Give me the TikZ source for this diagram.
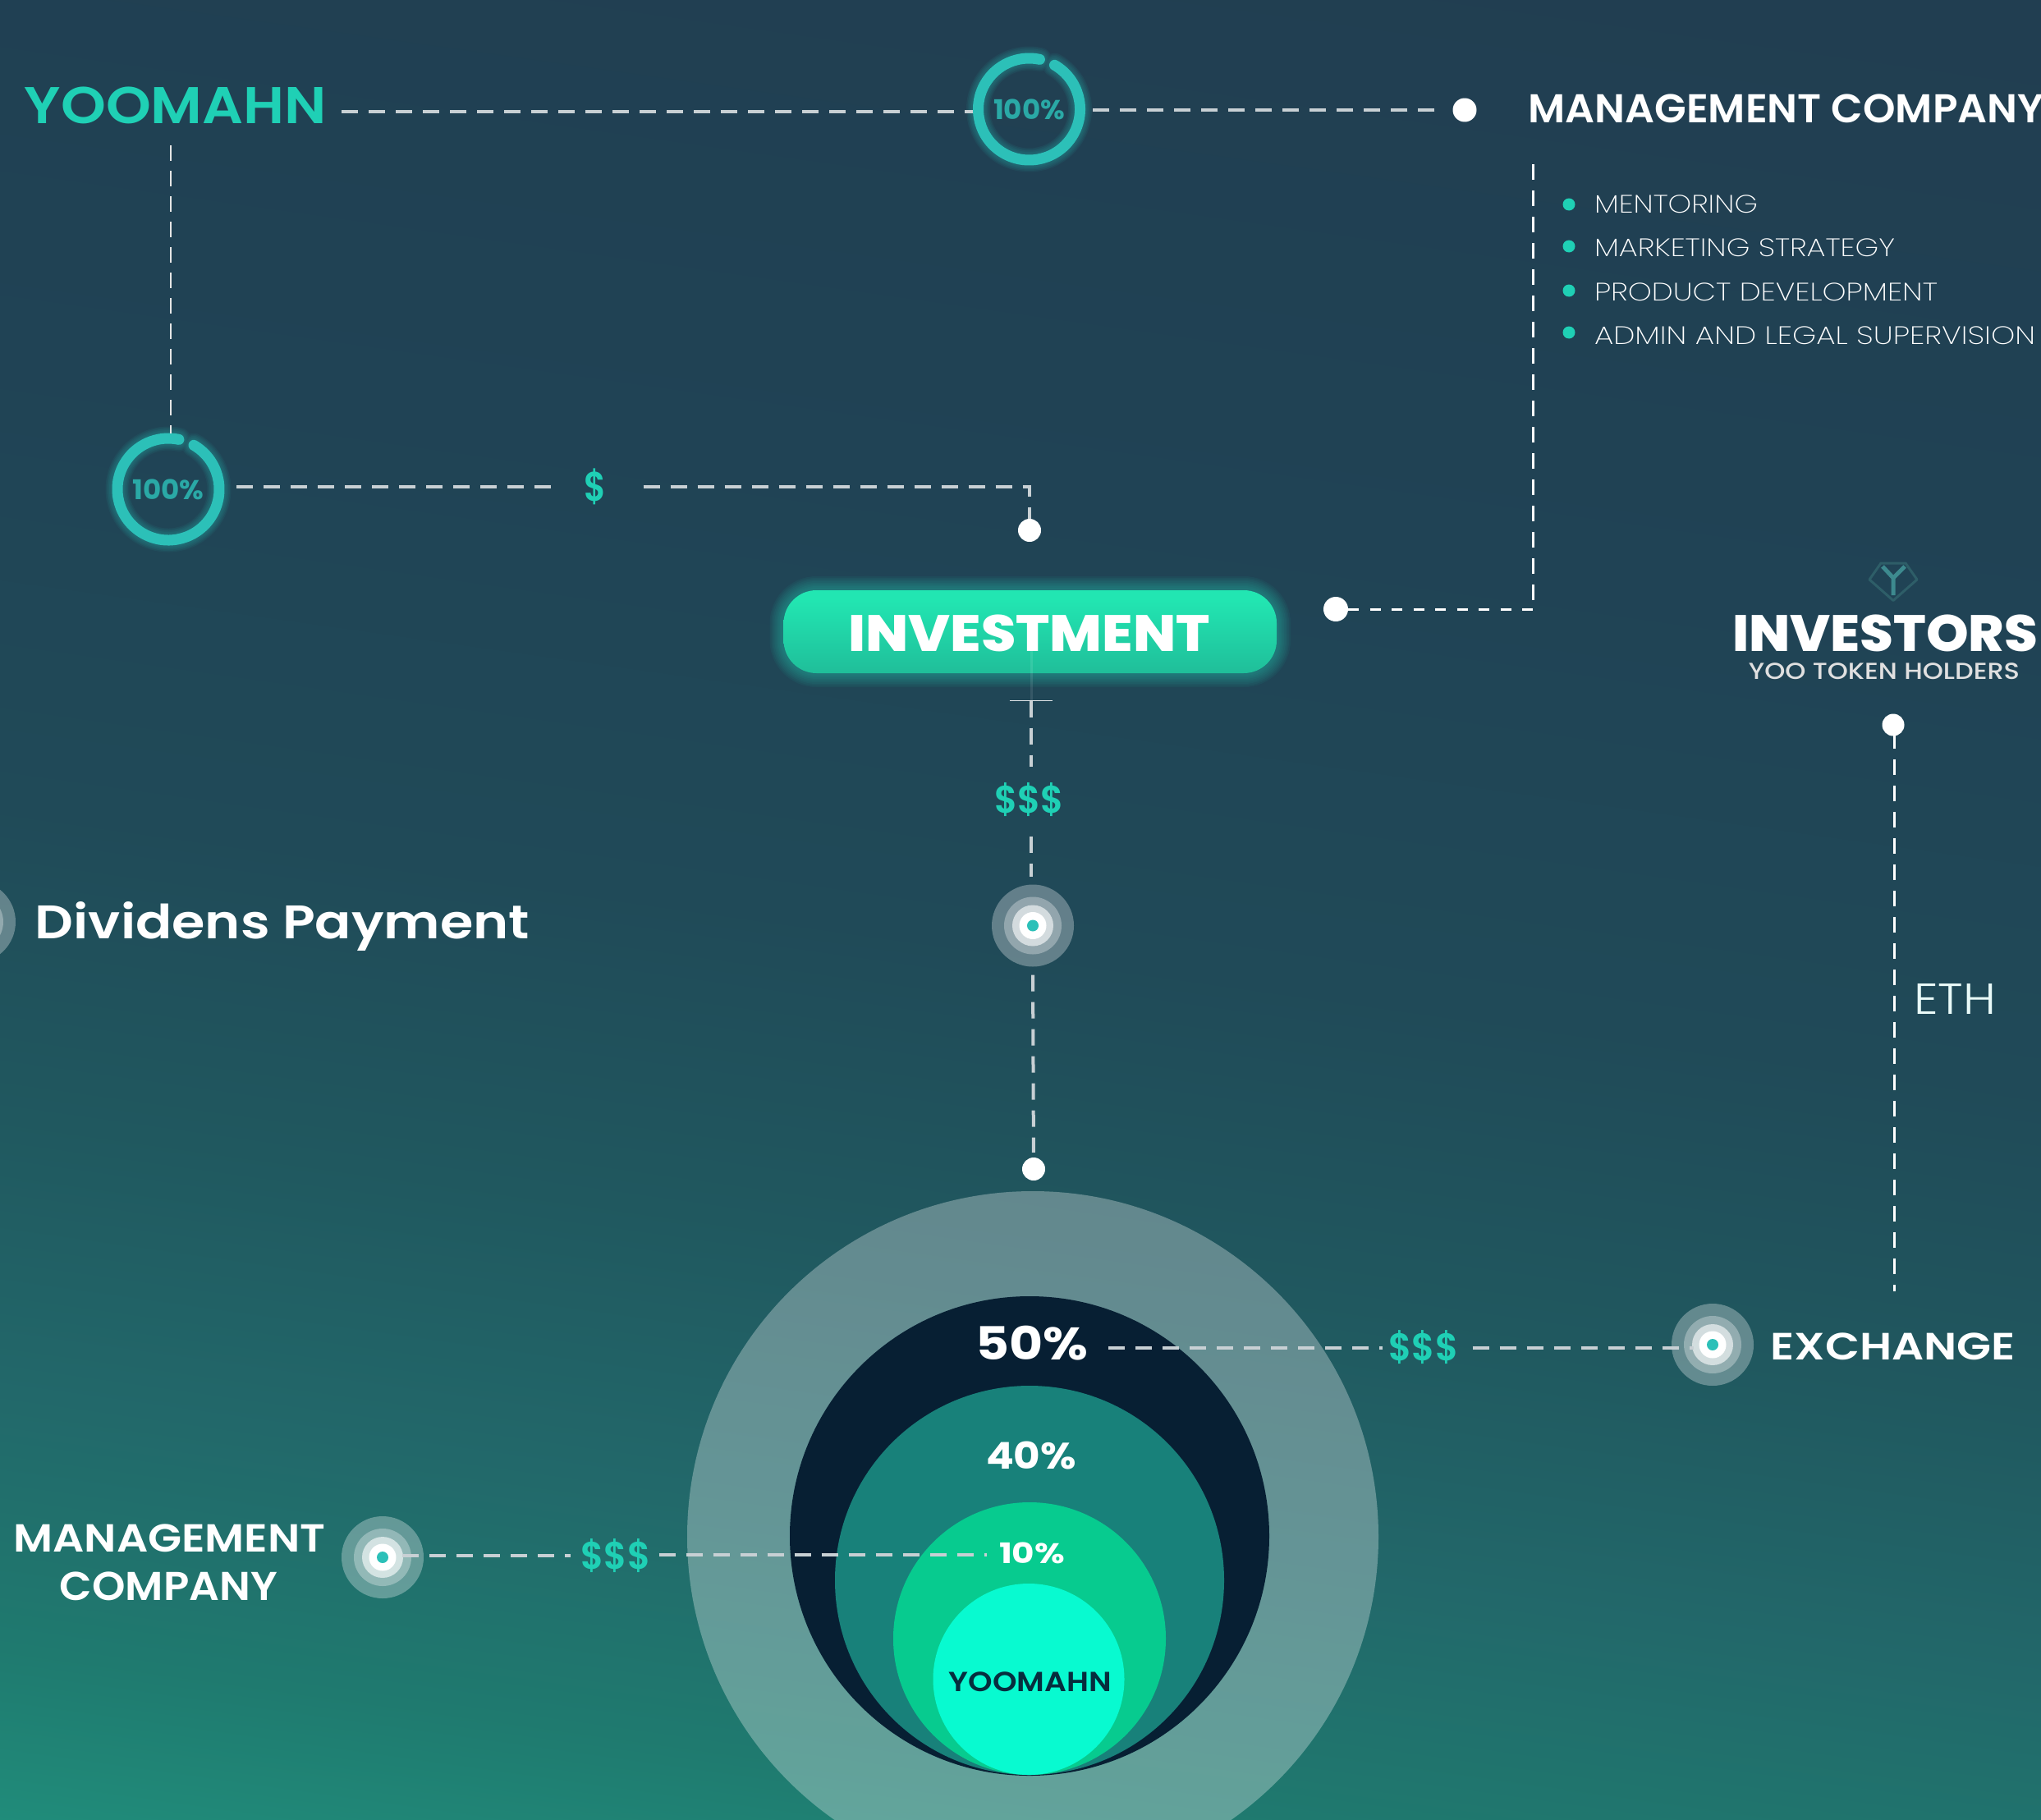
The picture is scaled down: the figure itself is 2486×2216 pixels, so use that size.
\documentclass[tikz,border=0pt]{standalone}
\usepackage{fontspec}
\usepackage{graphicx}
\setmainfont{Poppins}
\newfontfamily\plight{Poppins Light}
\newfontfamily\pxlight{Poppins ExtraLight}
\newfontfamily\pmed{Poppins Medium}
\newfontfamily\psemi{Poppins SemiBold}
\newfontfamily\pxbold{Poppins ExtraBold}
\usetikzlibrary{calc}
\definecolor{bgZ}{HTML}{22A58B}
\definecolor{bgA}{HTML}{219A83}
\definecolor{bgB}{HTML}{1F7A6F}
\definecolor{bgC}{HTML}{22686A}
\definecolor{bgD}{HTML}{20585F}
\definecolor{bgE}{HTML}{204A58}
\definecolor{bgF}{HTML}{204355}
\definecolor{bgG}{HTML}{213D50}
\definecolor{mint}{HTML}{1FD0B5}
\definecolor{ringc}{HTML}{2CC0B8}
\definecolor{ringt}{HTML}{2AA9A6}
\definecolor{lineg}{HTML}{C8D0D4}
\definecolor{navy}{HTML}{071F33}
\definecolor{tealc}{HTML}{18817A}
\definecolor{greenc}{HTML}{07CB8F}
\definecolor{brightc}{HTML}{08FAD0}
\definecolor{logoa}{HTML}{2E5E68}
\definecolor{logob}{HTML}{3D8A8F}
\definecolor{tgtn}{HTML}{22E6B2}
\definecolor{bgtn}{HTML}{1EA88C}
\pgfdeclareverticalshading{bgsh}{100bp}{color(0bp)=(bgZ);color(18bp)=(bgA);color(26.3bp)=(bgB);color(33.2bp)=(bgC);color(40.6bp)=(bgD);color(49bp)=(bgE);color(61bp)=(bgF);color(81bp)=(bgG);color(100bp)=(bgG)}
\pgfdeclareverticalshading{btnsh}{100bp}{color(0bp)=(bgtn);color(70bp)=(tgtn);color(100bp)=(tgtn)}
\newcommand{\fitbox}[3]{\resizebox*{#1pt}{#2pt}{#3}}
\tikzset{
  x=1pt,y=-1pt,
  lbl/.style={inner sep=0pt,outer sep=0pt,yshift=-1.5pt},
  dotn/.style={circle,fill=white,draw=none,inner sep=0pt,minimum size=#1},
  bul/.style={circle,fill=mint,draw=none,inner sep=0pt,minimum size=15pt},
  ringn/.style={circle,draw=none,inner sep=0pt,minimum size=136pt,text=ringt},
  boldline/.style={draw=lineg,line width=4pt,dash pattern=on 20pt off 13pt},
  midline/.style={draw=white,line width=3pt,dash pattern=on 19pt off 13pt},
  shortline/.style={draw=white,line width=3pt,dash pattern=on 13pt off 13.5pt},
  thinline/.style={draw=white!90!black,line width=1.6pt,dash pattern=on 19pt off 12pt},
  ringarc/.style={draw=ringc,line width=13pt,line cap=round},
  targ/.style={circle,draw=none,inner sep=0pt,minimum size=100pt},
}
\newcommand{\ringglow}[1]{%
  \foreach \w in {29,26,23,20,17}{
    \draw[draw=ringc,opacity=.07,line width=\w pt,line cap=round] ([shift={(60:62pt)}]#1.center) arc[start angle=60,delta angle=-342,radius=62pt];
  }
  \draw[ringarc] ([shift={(60:62pt)}]#1.center) arc[start angle=60,delta angle=-342,radius=62pt];
}
\newcommand{\targetmark}[3]{%
  \node[targ,fill=white,fill opacity=.3] (#1) at (#2,#3) {};
  \fill[white,opacity=.3] (#1.center) circle[radius=35pt];
  \fill[white,opacity=.6] (#1.center) circle[radius=25pt];
  \fill[white] (#1.center) circle[radius=16.5pt];
  \fill[ringc] (#1.center) circle[radius=7pt];
}
\begin{document}
\begin{tikzpicture}
\useasboundingbox (0,0) rectangle (2486,2216);
\begin{scope}
\clip (0,0) rectangle (2486,2216);
\shade[shading=bgsh,shading angle=-8] (0,0) rectangle (2486,2216);

% concentric circles
\node[circle,fill=white,fill opacity=.3,draw=none,minimum size=842pt,inner sep=0pt] (c0) at (1258,1872) {};
\node[circle,fill=navy,draw=none,minimum size=584pt,inner sep=0pt] (c1) at (1254,1871) {};
\node[circle,fill=tealc,draw=none,minimum size=474pt,inner sep=0pt] (c2) at (1254,1925) {};
\node[circle,fill=greenc,draw=none,minimum size=332pt,inner sep=0pt] (c3) at (1254,1996) {};
\node[circle,fill=brightc,draw=none,minimum size=233pt,inner sep=0pt] (c4) at (1253,2045.5) {};

% glow of the button
\foreach \w in {34,30,26,22,18,14,10,6}{
  \draw[draw=mint,opacity=.06,line width=\w pt,rounded corners=40pt] (954.5,719) rectangle (1555,820);
}
\shade[shading=btnsh,rounded corners=40pt] (954.5,719) rectangle (1555,820);

% labels
\node[lbl,text=mint] (yoo) at (214,126.5) {\fitbox{368}{45}{\psemi YOOMAHN}};
\node[lbl,text=white,anchor=west] (mc) at (1861.5,130.5) {\fitbox{628}{35}{\psemi MANAGEMENT COMPANY}};
\node[ringn] (r1) at (1253.5,133) {\fitbox{87}{25}{\bfseries 100\%}};
\node[ringn] (r2) at (205,596) {\fitbox{87}{25}{\bfseries 100\%}};
\node[lbl,text=mint] (d1) at (725,591) {\fitbox{27}{44}{\psemi\$}};
\node[lbl,text=white] (inv) at (1253.5,770) {\fitbox{440}{45}{\pxbold INVESTMENT}};
\node[lbl,text=mint] (d2) at (1253.5,973) {\fitbox{85}{41}{\psemi\$\$\$}};
\node[lbl,text=white] (div) at (344,1127) {\fitbox{602}{60}{\psemi Dividens Payment}};
\node[lbl,text=white] (pc50) at (1256.5,1634.5) {\fitbox{137}{42}{\bfseries 50\%}};
\node[lbl,text=white] (pc40) at (1256,1771) {\fitbox{110}{34}{\bfseries 40\%}};
\node[lbl,text=white] (pc10) at (1257,1890) {\fitbox{80}{26}{\bfseries 10\%}};
\node[lbl,text=navy!85!teal] (yoo2) at (1255,2047) {\fitbox{198}{24}{\psemi YOOMAHN}};
\node[lbl,text=mint] (d3) at (1734,1640) {\fitbox{85}{41}{\psemi\$\$\$}};
\node[lbl,text=mint] (d4) at (750,1894) {\fitbox{85}{41}{\psemi\$\$\$}};
\node[lbl,text=white] (ex) at (2305.5,1638.5) {\fitbox{298}{33}{\psemi EXCHANGE}};
\node[lbl,text=white] (mg) at (206.5,1872) {\fitbox{380}{34}{\psemi MANAGEMENT}};
\node[lbl,text=white] (co) at (205.5,1930.5) {\fitbox{265}{35}{\psemi COMPANY}};
\node[lbl,text=white] (invs) at (2296,770) {\fitbox{372}{45}{\pxbold INVESTORS}};
\node[lbl,text=white!88!black] (hold) at (2295,816) {\fitbox{330}{20}{\pmed YOO TOKEN HOLDERS}};
\node[lbl,text=white!90!mint] (eth) at (2381,1215.5) {\fitbox{100}{37}{\plight ETH}};

% list
\node[bul] (b1) at (1911,249) {};
\node[bul] (b2) at (1911,300) {};
\node[bul] (b3) at (1911,354) {};
\node[bul] (b4) at (1911,405) {};
\node[lbl,text=white,anchor=west] (l1) at (1942,247) {\fitbox{199}{22}{\pxlight MENTORING}};
\node[lbl,text=white,anchor=west] (l2) at (1942,300) {\fitbox{366}{22}{\pxlight MARKETING STRATEGY}};
\node[lbl,text=white,anchor=west] (l3) at (1942,354) {\fitbox{418}{22}{\pxlight PRODUCT DEVELOPMENT}};
\node[lbl,text=white,anchor=west] (l4) at (1942,407) {\fitbox{537}{22}{\pxlight ADMIN AND LEGAL SUPERVISION}};

% investors logo
\draw[logoa,line width=3pt,line join=round] (2277,706) -- (2306,731.5) -- (2335,706) -- (2321,686) -- (2291,686) -- cycle;
\draw[logob,line width=5pt,line join=round] (2293,690) -- (2306,704) -- (2320,690) (2306,704) -- (2306,725);

% rings
\ringglow{r1}
\ringglow{r2}

% dots
\node[dotn=29pt] (p1) at (1784,134) {};
\node[dotn=28pt] (p2) at (1254,646) {};
\node[dotn=30pt] (p3) at (1627,742) {};
\node[dotn=27pt] (p4) at (2306,883) {};
\node[dotn=28pt] (p5) at (1259,1424) {};

% targets
\targetmark{t1}{1258}{1127.5}
\targetmark{t2}{2086}{1638}
\targetmark{t3}{466}{1897}
\targetmark{t4}{-31}{1123}

% free ends
\coordinate (a1) at (416,135.5);
\coordinate (a2) at (208,177);
\coordinate (a3) at (288,593);
\coordinate (a4) at (1867,200);
\coordinate (a5) at (1229.5,853.5);
\coordinate (a6) at (1282,853.5);
\coordinate (a7) at (1256,853.5);
\coordinate (a8) at (1350,1642);
\coordinate (a9) at (488,1895);
\coordinate (a10) at (1202,1894);
\coordinate (a11) at (2307,1573);
\coordinate (a12) at (1867,742);

% connectors
\draw[boldline] (a1) -- (r1.west |- a1);
\draw[boldline,shorten <=22pt] (p1) -- (r1.east |- p1);
\draw[thinline] (a2) -- (a2 |- r2.north);
\draw[boldline,shorten >=33pt] (a3) -- (d1.west |- a3);
\draw[boldline,shorten <=45pt] (d1.east |- a3) -| (p2);
\draw[midline] (a4) -- (a12);
\draw[shortline] (p3) -- (a12);
\draw[white,opacity=.85,line width=1.6pt] (a5) -- (a6);
\draw[white,opacity=.1,line width=3pt] (1256,793) -- (a7);
\draw[boldline,shorten >=20pt] (a7) -- (a7 |- d2.north);
\draw[boldline,shorten <=24pt,shorten >=9pt] (a7 |- d2.south) -- (a7 |- t1.north);
\draw[boldline,shorten <=10pt,shorten >=6pt] (t1.south) -- (p5);
\draw[midline,shorten <=10pt] (p4 -| a11) -- (a11);
\draw[boldline,shorten >=8pt] (a8) -- (d3.west |- a8);
\draw[boldline,shorten <=17pt,shorten >=23pt] (d3.east |- a8) -- (t2.center |- a8);
\draw[boldline,shorten <=2pt,shorten >=13pt] (a9) -- (d4.west |- a9);
\draw[boldline,shorten <=10pt] (d4.east |- a10) -- (a10);
\end{scope}
\end{tikzpicture}
\end{document}
